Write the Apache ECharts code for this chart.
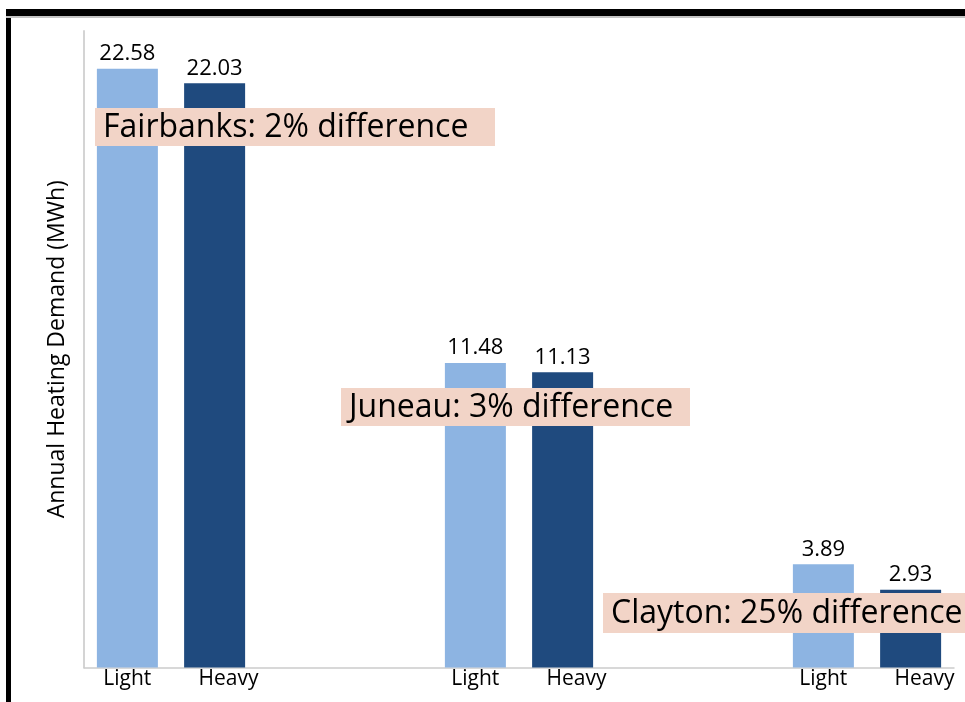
<!DOCTYPE html>
<html>
<head>
<meta charset="utf-8">
<script src="https://cdn.jsdelivr.net/npm/echarts@6/dist/echarts.min.js"></script>
<style>html,body{margin:0;padding:0;background:#fff;}#c{width:965px;height:702px;}</style>
</head>
<body>
<div id="c"></div>
<script>
const categories = ['Fairbanks', 'Juneau', 'Clayton'];
const seriesNames = ['Light', 'Heavy'];
const lightValues = [22.58, 11.48, 3.89];
const heavyValues = [22.03, 11.13, 2.93];
const annotations = ['Fairbanks: 2% difference', 'Juneau: 3% difference', 'Clayton: 25% difference'];
const yAxisName = 'Annual Heating Demand (MWh)';

const FONT = '"Open Sans", "Noto Sans", sans-serif';
const chart = echarts.init(document.getElementById('c'), null, {renderer: 'canvas'});

function toPoints(vals) { return vals.map((v, i) => [i + 1, v]); }

const annBoxes = [
  {x: 95, y: 108, w: 400, h: 38},
  {x: 341, y: 388, w: 349, h: 38},
  {x: 603, y: 593, w: 372, h: 40}
];
const graphics = [
  {type: 'rect', shape: {x: 6, y: 9, width: 965, height: 7}, style: {fill: '#000'}, z: 200},
  {type: 'rect', shape: {x: 6, y: 9, width: 5, height: 700}, style: {fill: '#000'}, z: 200},
  {type: 'rect', shape: {x: 6, y: 16, width: 965, height: 2}, style: {fill: '#c4c4c4'}, z: 200}
];
annotations.forEach((t, i) => {
  const b = annBoxes[i];
  graphics.push({type: 'rect', shape: {x: b.x, y: b.y, width: b.w, height: b.h}, style: {fill: '#f2d4c7'}, z: 100});
  graphics.push({type: 'text', x: b.x + 8, y: b.y + b.h / 2 + 1, style: {text: t, font: '32px ' + FONT, fill: '#000', verticalAlign: 'middle', align: 'left'}, z: 101});
});

chart.setOption({
  backgroundColor: '#fff',
  animation: false,
  grid: {left: 84, top: 31, width: 870, bottom: 34.5, containLabel: false},
  xAxis: {
    type: 'value', min: 0.75, max: 3.25, interval: 0.25,
    splitLine: {show: false},
    axisTick: {show: false},
    axisLine: {show: true, lineStyle: {color: '#cccccc', width: 1.5}},
    axisLabel: {
      margin: 1,
      formatter: function (v) {
        return Math.abs(v - Math.round(v)) < 1e-6 && v >= 1 && v <= categories.length
          ? '{a|' + seriesNames[0] + '}{b|' + seriesNames[1] + '}' : '';
      },
      rich: {
        a: {width: 115, align: 'center', fontSize: 21, fontFamily: FONT, color: '#000'},
        b: {width: 87.5, align: 'center', fontSize: 21, fontFamily: FONT, color: '#000'}
      }
    }
  },
  yAxis: {
    type: 'value', min: 0, max: 24,
    name: yAxisName, nameLocation: 'middle', nameGap: 15,
    nameTextStyle: {fontSize: 23, fontFamily: FONT, color: '#000'},
    axisLabel: {show: false},
    axisTick: {show: false},
    splitLine: {show: false},
    axisLine: {show: true, lineStyle: {color: '#d4d4d4', width: 2}}
  },
  series: [
    {
      name: seriesNames[0], type: 'bar', data: toPoints(lightValues),
      barWidth: 61, barGap: '43%',
      itemStyle: {color: '#8db4e2'},
      label: {show: true, position: 'top', distance: 4, fontSize: 22, fontFamily: FONT, color: '#000'}
    },
    {
      name: seriesNames[1], type: 'bar', data: toPoints(heavyValues),
      barWidth: 61, barGap: '43%',
      itemStyle: {color: '#1f4a7e'},
      label: {show: true, position: 'top', distance: 4, fontSize: 22, fontFamily: FONT, color: '#000'}
    }
  ],
  graphic: graphics
});
</script>
</body>
</html>
